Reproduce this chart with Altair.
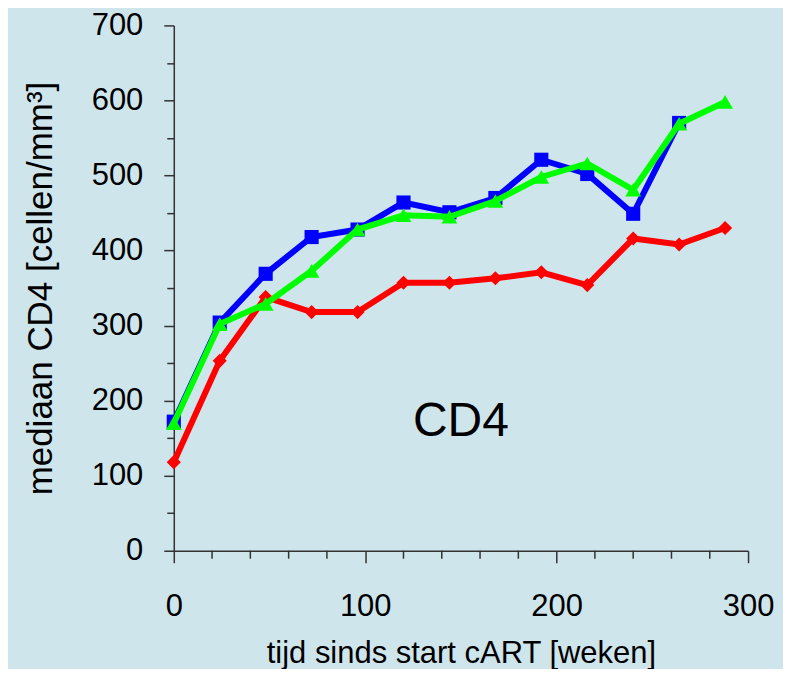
import altair as alt
import pandas as pd

weeks = [0, 24, 48, 72, 96, 120, 144, 168, 192, 216, 240, 264, 288]
blue_vals = [172, 304, 369, 418, 428, 464, 451, 470, 521, 502, 449, 570]
green_vals = [170, 302, 329, 373, 428, 447, 445, 466, 498, 516, 481, 569, 598]
red_vals = [118, 253, 338, 318, 318, 357, 357, 363, 371, 354, 416, 408, 430]

series_names = ["rood", "blauw", "groen"]
series_colors = ["#ff0000", "#0000ff", "#00ff00"]
series_shapes = ["diamond", "square", "triangle-up"]
series_sizes = [200, 200, 250]

x_labels = [0, 100, 200, 300]
x_minor_ticks = [20, 40, 60, 80, 120, 140, 160, 180, 220, 240, 260, 280]
y_ticks = list(range(0, 701, 50))

annot_text = ["CD4"]
annot_x = [150]
annot_y = [172]

rows = []
for name, vals in zip(series_names, [red_vals, blue_vals, green_vals]):
    for w, v in zip(weeks, vals):
        rows.append({"serie": name, "week": w, "cd4": v})
df = pd.DataFrame(rows)

FONT = "Liberation Sans"
AXIS_COLOR = "#333333"
PLOT_H = 526

x_enc = alt.X(
    "week:Q",
    scale=alt.Scale(domain=[0, 300], nice=False, zero=False),
    axis=alt.Axis(
        values=x_labels,
        tickSize=12,
        labelPadding=29,
        labelFlush=False,
        labelOverlap=False,
        labelFontSize=31,
        title="tijd sinds start cART [weken]",
        titlePadding=17,
        titleFontSize=31,
        grid=False,
    ),
)
y_enc = alt.Y(
    "cd4:Q",
    scale=alt.Scale(domain=[0, 700], nice=False),
    axis=alt.Axis(
        values=y_ticks,
        labelExpr="datum.value % 100 === 0 ? datum.label : ''",
        tickSize={"condition": {"test": "datum.value % 100 === 0", "value": 10}, "value": 7},
        labelPadding=21,
        labelFlush=False,
        labelOverlap=False,
        labelFontSize=31,
        title="mediaan CD4 [cellen/mm³]",
        titlePadding=33,
        titleFontSize=35,
        grid=False,
    ),
)

minor = alt.Chart(pd.DataFrame({"week": x_minor_ticks})).mark_rule(
    color=AXIS_COLOR, strokeWidth=1.5
).encode(x=x_enc, y=alt.value(PLOT_H), y2=alt.value(PLOT_H + 8))

layers = [minor]
for name, col, shp, sz in zip(series_names, series_colors, series_shapes, series_sizes):
    sub = alt.Chart(df).transform_filter(alt.datum.serie == name)
    layers.append(
        sub.mark_line(color=col, strokeWidth=6, strokeJoin="miter").encode(x=x_enc, y=y_enc)
    )
    layers.append(
        sub.mark_point(color=col, filled=True, opacity=1, shape=shp, size=sz).encode(x=x_enc, y=y_enc)
    )

annot = alt.Chart(pd.DataFrame({"t": annot_text, "week": annot_x, "cd4": annot_y})).mark_text(
    font=FONT, fontSize=48, color="black", align="center", baseline="middle"
).encode(x=x_enc, y=y_enc, text="t:N")

chart = (
    alt.layer(*layers, annot)
    .properties(
        width=575,
        height=PLOT_H,
        autosize=alt.AutoSizeParams(type="none"),
        padding={"left": 166, "top": 17, "right": 35, "bottom": 118},
        background="#cfe5ec",
    )
    .configure_view(stroke=None)
    .configure_axis(
        domainColor=AXIS_COLOR,
        domainWidth=1.5,
        tickColor=AXIS_COLOR,
        tickWidth=1.5,
        labelFont=FONT,
        labelColor="black",
        titleFont=FONT,
        titleFontWeight="normal",
        titleColor="black",
    )
)

chart.save("out.html", embed_options={"renderer": "svg", "actions": False})
